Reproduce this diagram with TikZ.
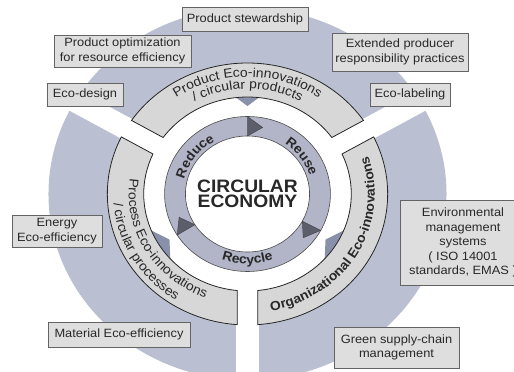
\documentclass[tikz,border=0pt]{standalone}
\usepackage{fontspec}
\setmainfont{Liberation Sans}[FakeStretch=1.07]
\usetikzlibrary{calc,positioning,decorations.text}

\definecolor{discblue}{RGB}{186,192,209}
\definecolor{bandgray}{RGB}{215,215,215}
\definecolor{ringgray}{RGB}{178,180,199}
\definecolor{arrowgray}{RGB}{92,94,108}
\definecolor{notchblue}{RGB}{136,144,170}
\definecolor{boxgray}{RGB}{222,222,222}
\definecolor{boxline}{RGB}{100,100,100}
\definecolor{textgray}{RGB}{40,40,40}

\newcommand{\boxfont}{\fontsize{12}{14.6}\selectfont}
\newcommand{\bandfont}{\fontsize{13}{15}\selectfont\color{textgray}}
\newcommand{\bandboldfont}{\fontsize{13}{15}\selectfont\bfseries\color{textgray}}
\newcommand{\ringfont}{\fontsize{13}{15}\selectfont\bfseries\color{textgray}}
\newcommand{\corefont}{\fontsize{18}{15}\selectfont\bfseries}

\tikzset{
    box/.style={draw=boxline, fill=boxgray, line width=0.6pt, align=center,
        inner sep=2pt, text=textgray, font=\boxfont},
    band/.style={draw=black!85, fill=bandgray, line width=0.8pt},
    ringline/.style={draw=black!70, line width=0.6pt},
    curved/.style={decorate, decoration={text along path, text align=center, text={#1}}},
}

\begin{document}
\begin{tikzpicture}[x=1pt, y=1pt]
    \useasboundingbox (-247.5,-178) rectangle (266.5,194);
    \clip (-247.5,-178) rectangle (266.5,194);
    \begin{scope}[x=1.07pt]
        % Disc
        \fill[discblue] (0,0) circle[radius=186];
        % Gaps
        \fill[white] (120:11) -- ++(30:260) -- ++(-60:22) -- (-60:11) -- cycle;
        \fill[white] (60:11) -- ++(150:260) -- ++(240:22) -- (240:11) -- cycle;
        \fill[white] (0:11) -- ++(270:260) -- ++(180:22) -- (180:11) -- cycle;
        \fill[white] (0,0) circle[radius=97];
        % Notches
        \fill[notchblue] (82:100) -- (90:88) -- (98:100) -- cycle;
        \fill[notchblue] (200:100) -- (212:86) -- (224:100) -- cycle;
        \fill[notchblue] (-44:100) -- (-32:86) -- (-20:100) -- cycle;
        % Bands
        \draw[band] (34.16:131) arc[start angle=34.16, end angle=145.84, radius=131]
            -- (144.38:97) arc[start angle=144.38, end angle=35.62, radius=97] -- cycle;
        \draw[band] (154.16:131) arc[start angle=154.16, end angle=265.84, radius=131]
            -- (264.38:97) arc[start angle=264.38, end angle=155.62, radius=97] -- cycle;
        \draw[band] (-85.84:131) arc[start angle=-85.84, end angle=25.84, radius=131]
            -- (24.38:97) arc[start angle=24.38, end angle=-84.38, radius=97] -- cycle;
        % Ring
        \fill[ringgray, even odd rule] (0,0) circle[radius=77.5] (0,0) circle[radius=58];
        \draw[ringline] (0,0) circle[radius=77.5];
        \draw[ringline] (0,0) circle[radius=58];
        \filldraw[arrowgray, draw=black!75, line width=0.4pt] (90:58) -- (90:77.5) -- (78:68) -- cycle;
        \filldraw[arrowgray, draw=black!75, line width=0.4pt] (-28:58) -- (-28:77.5) -- (-40:68) -- cycle;
        \filldraw[arrowgray, draw=black!75, line width=0.4pt] (212:58) -- (212:77.5) -- (200:68) -- cycle;
        % Ring labels
        \path[curved={|\ringfont|Reduce}] (204:61) arc[start angle=204, end angle=84, radius=61];
        \path[curved={|\ringfont|Reuse}] (95:61) arc[start angle=95, end angle=-25, radius=61];
        \path[curved={|\ringfont|Recycle}] (210:70) arc[start angle=210, end angle=330, radius=70];
        \node[font=\corefont, align=center, text=textgray] (core) at (0,0.5) {CIRCULAR\\ECONOMY};
        % Band labels
        \path[curved={|\bandfont|Product Eco-innovations}] (150:117) arc[start angle=150, end angle=30, radius=117];
        \path[curved={|\bandfont|/ circular products}] (150:105) arc[start angle=150, end angle=30, radius=105];
        \path[curved={|\bandfont|Process Eco-innovations}] (150:111) arc[start angle=150, end angle=270, radius=111];
        \path[curved={|\bandfont|/ circular processes}] (150:125.5) arc[start angle=150, end angle=270, radius=125.5];
        \path[curved={|\bandboldfont|Organizational Eco-innovations}] (-90:119) arc[start angle=-90, end angle=30, radius=119];
    \end{scope}
    % Practices
    \node[box, minimum width=126pt, minimum height=24pt] (stewardship) at (-2.5,175) {Product stewardship};
    \node[box, minimum width=137pt, minimum height=32pt] (optimization) at (-125,143) {Product optimization\\for resource efficiency};
    \node[box, minimum width=136pt, minimum height=38pt] (extended) at (152.5,142) {Extended producer\\responsibility practices};
    \node[box, minimum width=76pt, minimum height=23pt] (ecodesign) at (-162.5,99.5) {Eco-design};
    \node[box, minimum width=80pt, minimum height=23pt] (ecolabeling) at (162.5,99.5) {Eco-labeling};
    \node[box, minimum width=90pt, minimum height=32pt] (energy) at (-190.5,-37) {Energy\\Eco-efficiency};
    \node[box, minimum width=142pt, minimum height=25pt] (material) at (-128.5,-140.5) {Material Eco-efficiency};
    \node[box, minimum width=126pt, minimum height=85pt] (environmental) at (215.5,-48.5) {Environmental\\management\\systems\\( ISO 14001\\standards, EMAS )};
    \node[box, minimum width=125pt, minimum height=41pt] (green) at (149,-153.5) {Green supply-chain\\management};
\end{tikzpicture}
\end{document}
